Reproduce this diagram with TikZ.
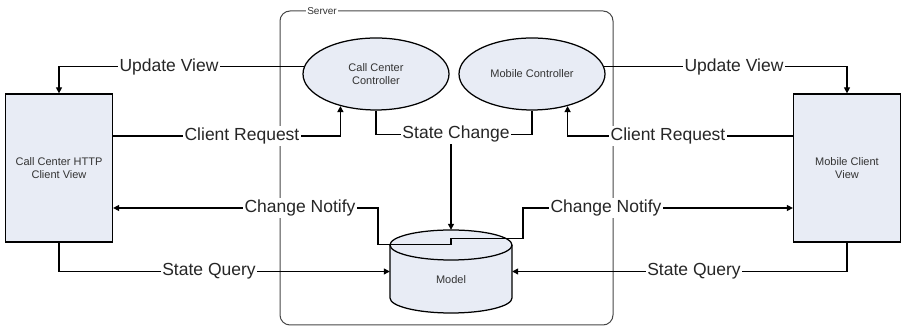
\documentclass[tikz,border=0pt]{standalone}
\usepackage{fontspec}
\setmainfont{Liberation Sans}
\usetikzlibrary{shapes.geometric,arrows.meta,backgrounds,calc}

\definecolor{shapefill}{RGB}{232,236,245}
\definecolor{smalltext}{RGB}{51,51,51}
\definecolor{servergray}{RGB}{70,70,70}

\tikzset{
  x=1pt, y=1pt,
  conn/.style={line width=1.25pt, black},
  arr/.style={conn, -{Triangle[length=6pt,width=6pt]}},
  viewbox/.style={draw, line width=1.25pt, fill=shapefill, minimum width=107pt,
    minimum height=148pt, align=center, font=\fontsize{11}{13}\selectfont,
    text=smalltext, inner sep=0pt},
  ctrl/.style={ellipse, draw, line width=1.25pt, fill=shapefill, minimum width=146pt,
    minimum height=72pt, align=center, font=\fontsize{11}{13}\selectfont,
    text=smalltext, inner sep=0pt},
  lbl/.style={fill=white, inner sep=1.5pt, font=\fontsize{17.5}{20}\selectfont,
    text=black!85},
}

\begin{document}
\begin{tikzpicture}
\useasboundingbox (0,0) rectangle (902,328);

% client views
\node[viewbox] (ccv) at (59,160) {Call Center HTTP\\Client View};
\node[viewbox] (mcv) at (847,160) {Mobile Client\\View};

% controllers
\node[ctrl] (ccc) at (376,254) {Call Center\\Controller};
\node[ctrl] (mc) at (532,254) {Mobile Controller};

% model store: bounding node plus a drawn cylinder
\node[minimum width=122pt, minimum height=83pt, inner sep=0pt] (model) at (451,56.5) {};
\filldraw[line width=1.25pt, fill=shapefill]
  (390,83) -- (390,30) arc[start angle=180, end angle=360, x radius=61, y radius=15]
  -- (512,83) arc[start angle=0, end angle=180, x radius=61, y radius=15] -- cycle;
\draw[line width=1.25pt] (512,83) arc[start angle=0, end angle=-180, x radius=61, y radius=15];
\node[font=\fontsize{11}{13}\selectfont, text=smalltext] (modeltext) at (451,48) {Model};

\begin{scope}[on background layer]
  % server boundary
  \draw[servergray, line width=1pt, rounded corners=10pt] (280,317) rectangle (613,3);

  % controller -> view updates
  \draw[arr] (ccc.174) -| (ccv.north);
  \draw[arr] (mc.6) -| (mcv.north);

  % view -> controller requests
  \draw[arr] ([yshift=32pt]ccv.east) -| (ccc.222);
  \draw[arr] ([yshift=32pt]mcv.west) -| (mc.318);

  % controllers -> model state change
  \draw[conn] (ccc.south) -- ++(0,-24) coordinate (scl) -| (mc.south);
  \draw[arr] (scl -| model.north) -- (model.north);

  % views query the model
  \draw[arr] (ccv.south) |- (model.west);
  \draw[arr] (mcv.south) |- (model.east);
\end{scope}

% model -> view notifications
\draw[arr] ([yshift=-15pt]model.north) -- ++(-73,0) |- ([yshift=-40pt]ccv.east);
\draw[arr] ([yshift=-15pt]model.north) -- ++(0,6) -- ++(72,0) |- ([yshift=-40pt]mcv.west);

% connector labels
\node[lbl] (uvl) at (169,261.5) {Update View};
\node[lbl] (uvr) at (734,261.5) {Update View};
\node[lbl] (crl) at (242,192) {Client Request};
\node[lbl] (crr) at (668,192) {Client Request};
\node[lbl] (sc) at (456,194) {State Change};
\node[lbl] (cnl) at (300,120) {Change Notify};
\node[lbl] (cnr) at (606,120) {Change Notify};
\node[lbl] (sql) at (209,56.5) {State Query};
\node[lbl] (sqr) at (694,56.5) {State Query};

% server caption on its frame
\node[fill=white, inner sep=1pt, font=\fontsize{10}{12}\selectfont, text=smalltext] (srv) at (322,317) {Server};
\end{tikzpicture}
\end{document}
